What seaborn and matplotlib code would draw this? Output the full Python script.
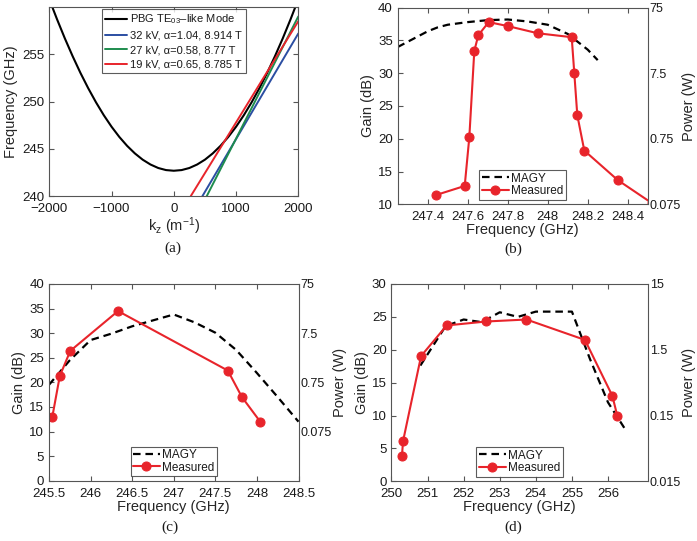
import matplotlib
matplotlib.use("Agg")
import matplotlib.pyplot as plt
from matplotlib.ticker import NullLocator
import seaborn as sns

# (a) dispersion diagram
kz = [-2000, -1875, -1750, -1625, -1500, -1375, -1250, -1125, -1000, -875,
      -750, -625, -500, -375, -250, -125, 0, 125, 250, 375, 500, 625, 750,
      875, 1000, 1125, 1250, 1375, 1500, 1625, 1750, 1875, 2000]
f_mode = [260.81, 258.69, 256.68, 254.80, 253.04, 251.42, 249.93, 248.57,
          247.35, 246.27, 245.33, 244.53, 243.87, 243.36, 242.99, 242.77,
          242.70, 242.77, 242.99, 243.36, 243.87, 244.53, 245.33, 246.27,
          247.35, 248.57, 249.93, 251.42, 253.04, 254.80, 256.68, 258.69,
          260.81]
k_32kv, f_32kv = [458, 2000], [240.0, 257.2]
k_27kv, f_27kv = [528, 2000], [240.0, 259.0]
k_19kv, f_19kv = [271, 2000], [240.0, 258.5]

# (b)
b_magy_f = [247.25, 247.35, 247.4, 247.45, 247.5, 247.6, 247.7, 247.8,
            247.9, 248.0, 248.1, 248.2, 248.25]
b_magy_g = [34.0, 35.6, 36.4, 37.0, 37.4, 37.8, 38.1, 38.2,
            37.9, 37.4, 36.0, 33.6, 32.0]
b_meas_f = [247.44, 247.585, 247.608, 247.633, 247.653, 247.705, 247.8,
            247.95, 248.12, 248.133, 248.148, 248.183, 248.35, 248.52]
b_meas_g = [11.4, 12.8, 20.2, 33.4, 35.8, 37.8, 37.2,
            36.1, 35.5, 30.0, 23.6, 18.2, 13.7, 10.2]

# (c)
c_magy_f = [245.5, 245.75, 246.0, 246.25, 246.5, 246.75, 247.0, 247.25,
            247.5, 247.75, 248.0, 248.25, 248.5]
c_magy_g = [19.5, 24.5, 28.6, 29.9, 31.4, 32.6, 33.8, 32.2,
            30.1, 26.6, 21.9, 17.0, 12.0]
c_meas_f = [245.54, 245.63, 245.756, 246.33, 247.65, 247.82, 248.04]
c_meas_g = [13.0, 21.3, 26.4, 34.5, 22.4, 17.0, 12.0]

# (d)
d_magy_f = [250.8, 251.5, 252.0, 252.5, 253.0, 253.5, 254.0, 255.0,
            255.5, 256.0, 256.5]
d_magy_g = [17.6, 23.6, 24.6, 24.2, 25.7, 25.0, 25.8, 25.8,
            18.6, 12.0, 7.7]
d_meas_f = [250.29, 250.32, 250.82, 251.53, 252.63, 253.74, 255.36,
            256.12, 256.26]
d_meas_g = [3.9, 6.1, 19.05, 23.7, 24.3, 24.6, 21.5, 13.0, 9.9]

RED = "#e8242b"
sns.set_style("ticks")
plt.rcParams["font.family"] = ["Liberation Sans", "DejaVu Sans"]
plt.rcParams["mathtext.fontset"] = "custom"
plt.rcParams["mathtext.rm"] = "Liberation Sans"
plt.rcParams["mathtext.it"] = "Liberation Sans"
plt.rcParams["axes.edgecolor"] = "#555555"
plt.rcParams["text.color"] = "#1a1a1a"
plt.rcParams["xtick.color"] = "#555555"
plt.rcParams["ytick.color"] = "#555555"
plt.rcParams["xtick.labelcolor"] = "#1a1a1a"
plt.rcParams["ytick.labelcolor"] = "#1a1a1a"

fig = plt.figure(figsize=(6.97, 5.41), dpi=100)
W, H = 697.0, 541.0


def make_ax(x0, x1, y0, y1):
    return fig.add_axes([x0 / W, 1 - y1 / H, (x1 - x0) / W, (y1 - y0) / H])


def style(ax):
    ax.tick_params(direction="in", top=True, right=True, length=3.5,
                   width=0.8, labelsize=9.5)
    ax.tick_params(axis="x", pad=5)
    for s in ax.spines.values():
        s.set_linewidth(0.8)


def gain_panel(ax, mf, mg, ef, eg, xlim, ylim, xticks, xlabels, yticks,
               plim, pticks, plabels):
    sns.lineplot(x=mf, y=mg, ax=ax, color="black", linestyle=(0, (3.4, 2.2)),
                 linewidth=1.6, sort=False, label="MAGY")
    sns.lineplot(x=ef, y=eg, ax=ax, color=RED, marker="o", markersize=6.5,
                 markeredgecolor=RED, linewidth=1.5, sort=False,
                 label="Measured")
    ax.set_xlim(*xlim)
    ax.set_ylim(*ylim)
    ax.set_xticks(xticks)
    ax.set_xticklabels(xlabels)
    ax.set_yticks(yticks)
    ax.set_xlabel("Frequency (GHz)", fontsize=10.5, labelpad=0)
    ax.set_ylabel("Gain (dB)", fontsize=10.5, labelpad=2)
    style(ax)
    leg = ax.legend(loc="lower center", fontsize=8.5, frameon=True,
                    fancybox=False, edgecolor="#333333", handlelength=2.3,
                    borderaxespad=0.4, borderpad=0.2, labelspacing=0.05,
                    handletextpad=0.2)
    leg.get_frame().set_linewidth(0.8)
    tw = ax.twinx()
    tw.set_yscale("log")
    tw.set_ylim(*plim)
    tw.set_yticks(pticks)
    tw.set_yticklabels(plabels)
    tw.yaxis.set_minor_locator(NullLocator())
    tw.tick_params(axis="y", length=0, labelsize=9, pad=1.5)
    tw.set_ylabel("Power (W)", fontsize=10.5, labelpad=1)
    for s in tw.spines.values():
        s.set_visible(False)


# (a)
ax = make_ax(49.3, 298.3, 7.0, 196.3)
sns.lineplot(x=kz, y=f_mode, ax=ax, color="black", linewidth=1.5, sort=False,
             label=r"PBG TE$_{03}$–like Mode")
sns.lineplot(x=k_32kv, y=f_32kv, ax=ax, color="#2b4ea2", linewidth=1.4,
             label="32 kV, α=1.04, 8.914 T")
sns.lineplot(x=k_27kv, y=f_27kv, ax=ax, color="#1e8c4e", linewidth=1.4,
             label="27 kV, α=0.58, 8.77 T")
sns.lineplot(x=k_19kv, y=f_19kv, ax=ax, color=RED, linewidth=1.4,
             label="19 kV, α=0.65, 8.785 T")
ax.set_xlim(-2000, 2000)
ax.set_ylim(240, 260)
ax.set_xticks([-2000, -1000, 0, 1000, 2000])
ax.set_xticklabels(["−2000", "−1000", "0", "1000", "2000"])
ax.set_yticks([240, 245, 250, 255])
ax.set_xlabel(r"k$_z$ (m$^{-1}$)", fontsize=10.5, labelpad=0)
ax.set_ylabel("Frequency (GHz)", fontsize=10.5, labelpad=3)
style(ax)
leg = ax.legend(loc="upper center", fontsize=8, frameon=True, fancybox=False,
                edgecolor="#333333", handlelength=1.9, borderaxespad=0.2,
                borderpad=0.3, labelspacing=0.4, handletextpad=0.35)
leg.get_frame().set_linewidth(0.8)

# (b)
ax = make_ax(397.7, 647.7, 7.7, 204.3)
gain_panel(ax, b_magy_f, b_magy_g, b_meas_f, b_meas_g,
           (247.25, 248.5), (10, 40),
           [247.4, 247.6, 247.8, 248.0, 248.2, 248.4],
           ["247.4", "247.6", "247.8", "248", "248.2", "248.4"],
           [10, 15, 20, 25, 30, 35, 40],
           (0.075, 75), [0.075, 0.75, 7.5, 75], ["0.075", "0.75", "7.5", "75"])

# (c)
ax = make_ax(49.0, 298.5, 284.0, 480.7)
gain_panel(ax, c_magy_f, c_magy_g, c_meas_f, c_meas_g,
           (245.5, 248.5), (0, 40),
           [245.5, 246, 246.5, 247, 247.5, 248, 248.5],
           ["245.5", "246", "246.5", "247", "247.5", "248", "248.5"],
           [0, 5, 10, 15, 20, 25, 30, 35, 40],
           (0.0075, 75), [0.075, 0.75, 7.5, 75], ["0.075", "0.75", "7.5", "75"])

# (d)
ax = make_ax(391.5, 647.7, 284.0, 481.3)
gain_panel(ax, d_magy_f, d_magy_g, d_meas_f, d_meas_g,
           (250, 257.1), (0, 30),
           [250, 251, 252, 253, 254, 255, 256],
           ["250", "251", "252", "253", "254", "255", "256"],
           [0, 5, 10, 15, 20, 25, 30],
           (0.015, 15), [0.015, 0.15, 1.5, 15], ["0.015", "0.15", "1.5", "15"])

# panel captions
for lbl, x, y in [("(a)", 173, 248), ("(b)", 513, 249),
                  ("(c)", 170, 527), ("(d)", 513, 527)]:
    fig.text(x / W, 1 - y / H, lbl, ha="center", va="center",
             family="Liberation Serif", fontsize=11)

fig.savefig("out.png", dpi=100)
